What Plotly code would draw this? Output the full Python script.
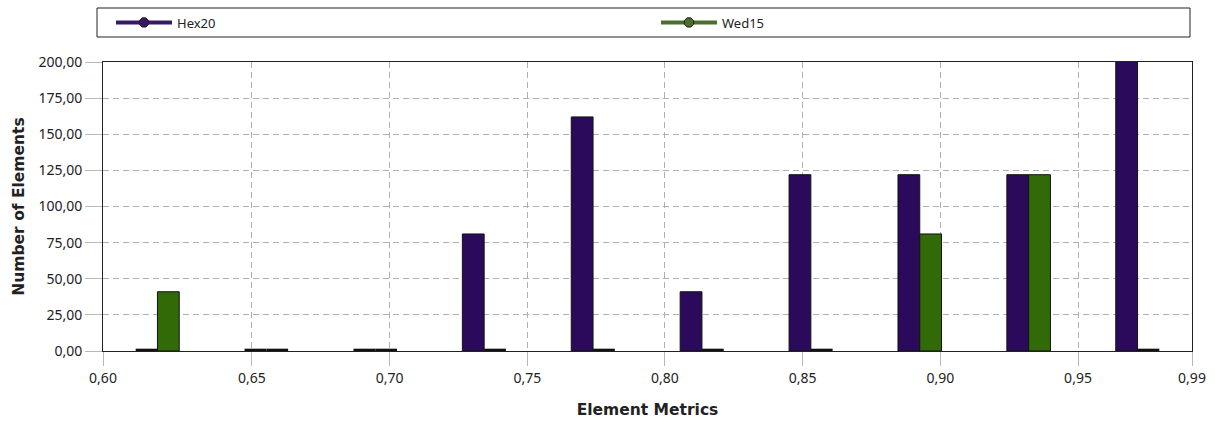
import numpy as np
import plotly.graph_objects as go

# Element quality histogram: 10 equal-width bins between the minimum and maximum metric
metric_min = 0.5959
metric_max = 0.9914
n_bins = 10

hex20_counts = [0, 0, 0, 81, 162, 41, 122, 122, 122, 203]
wed15_counts = [41, 0, 0, 0, 0, 0, 0, 81, 122, 0]

x_tick_values = [metric_min, 0.65, 0.70, 0.75, 0.80, 0.85, 0.90, 0.95, metric_max]
x_tick_labels = ["0,60", "0,65", "0,70", "0,75", "0,80", "0,85", "0,90", "0,95", "0,99"]

edges = np.linspace(metric_min, metric_max, n_bins + 1)
centers = (edges[:-1] + edges[1:]) / 2

HEX_COLOR = "#2b0a5c"
WED_COLOR = "#326a08"
HEX_LEGEND = "#3a1868"
WED_LEGEND = "#4c6e2c"
FONT = "Noto Sans"
TITLE_FONT = "DejaVu Sans"
INK = "#222222"

# empty bins are drawn as a thin dark strip on the baseline
EMPTY_MARK = 1.6


def empty_marks(counts):
    return [EMPTY_MARK if c == 0 else None for c in counts]


fig = go.Figure()

for name, counts, color, group in [
    ("Hex20", hex20_counts, HEX_COLOR, "hex"),
    ("Wed15", wed15_counts, WED_COLOR, "wed"),
]:
    fig.add_trace(go.Bar(
        x=centers, y=[c if c > 0 else None for c in counts],
        offsetgroup=group, name=name, showlegend=False,
        marker=dict(color=color, line=dict(color="#111111", width=1)),
    ))
    fig.add_trace(go.Bar(
        x=centers, y=empty_marks(counts),
        offsetgroup=group, showlegend=False, hoverinfo="skip",
        marker=dict(color="#111111", line=dict(width=0)),
    ))

for name, color in [("Hex20", HEX_LEGEND), ("Wed15", WED_LEGEND)]:
    fig.add_trace(go.Scatter(
        x=[None], y=[None], name=name, mode="lines+markers",
        line=dict(color=color, width=4),
        marker=dict(color=color, size=10, symbol="octagon",
                    line=dict(color="#222222", width=1)),
    ))

grid = dict(showgrid=True, gridcolor="#b0b0b0", griddash="6px,4px", gridwidth=1)

fig.update_layout(
    width=1215, height=424,
    margin=dict(l=103, r=23, t=62, b=73, autoexpand=False),
    paper_bgcolor="white", plot_bgcolor="white",
    barmode="group", bargap=0.6, bargroupgap=0,
    separators=",.",
    font=dict(family=FONT, size=14, color=INK),
    showlegend=True,
    legend=dict(
        orientation="h", x=(111 - 103) / 1089, xanchor="left",
        y=(351 - 22.5) / 289, yanchor="middle",
        borderwidth=0, bgcolor="rgba(0,0,0,0)",
        entrywidth=474, entrywidthmode="pixels", itemwidth=56,
        font=dict(family=FONT, size=13, color=INK),
    ),
    shapes=[dict(
        type="rect", xref="paper", yref="paper",
        x0=(97 - 103) / 1089, x1=(1190 - 103) / 1089,
        y0=(351 - 37) / 289, y1=(351 - 8) / 289,
        line=dict(color=INK, width=1), fillcolor="rgba(0,0,0,0)", layer="below",
    )],
    xaxis=dict(
        range=[metric_min, metric_max],
        tickmode="array", tickvals=x_tick_values, ticktext=x_tick_labels,
        ticks="outside", ticklen=14, tickcolor="#b8b8b8",
        showline=True, linecolor=INK, linewidth=1, mirror=True,
        zeroline=False,
        title=dict(text="<b>Element Metrics</b>", standoff=18,
                   font=dict(family=TITLE_FONT, size=15.5, color=INK)),
        tickfont=dict(family=FONT, size=14, color=INK),
        **grid,
    ),
    yaxis=dict(
        range=[0, 200], tickmode="linear", tick0=0, dtick=25,
        tickformat=".2f",
        ticks="outside", ticklen=17, tickcolor="#b8b8b8",
        showline=True, linecolor=INK, linewidth=1, mirror=True,
        zeroline=False,
        title=dict(text="<b>Number of Elements</b>", standoff=9,
                   font=dict(family=TITLE_FONT, size=15.5, color=INK)),
        tickfont=dict(family=FONT, size=14, color=INK),
        **grid,
    ),
)

fig.write_html("out.html")
